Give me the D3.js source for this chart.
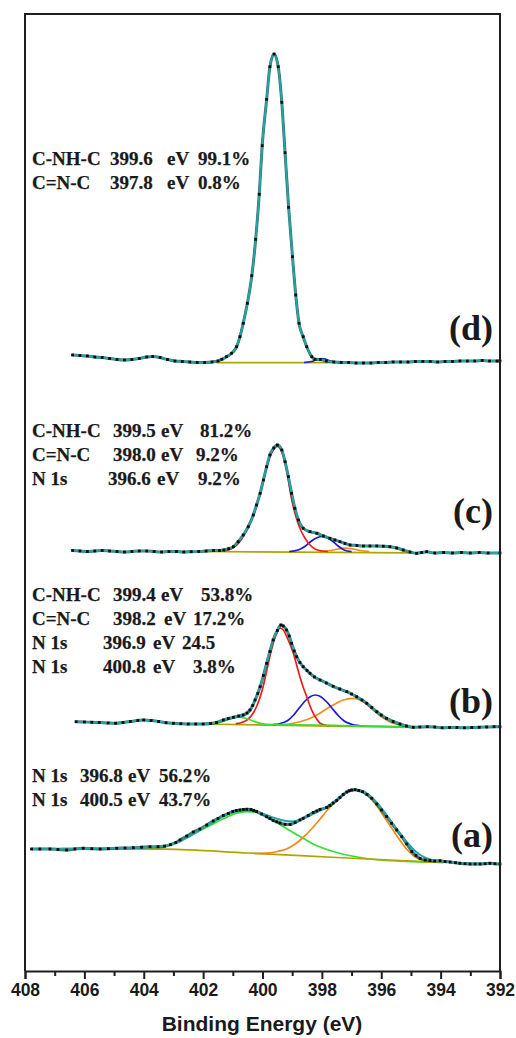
<!DOCTYPE html>
<html><head><meta charset="utf-8">
<script src="https://cdn.jsdelivr.net/npm/d3@7/dist/d3.min.js"></script>
<style>body{margin:0;background:#fff}svg{display:block}</style>
</head><body>
<svg id="chart" width="516" height="1038"></svg>
<script>
// ---------- DATA (binding energy eV, intensity a.u. incl. stacking offset) ----------
const majorTicks = [408, 406, 404, 402, 400, 398, 396, 394, 392];
const minorTicks = [407, 405, 403, 401, 399, 397, 395, 393];
const xTitle = "Binding Energy (eV)";
const panelLetters = ["(d)", "(c)", "(b)", "(a)"];

// (d)
const dataD = [[406.4,616],[406.15,615.5],[405.9,615],[405.65,614],[405.4,613.5],[405.15,612.5],[404.9,611.5],[404.65,611],[404.4,611.5],[404.15,612.5],[403.9,614],[403.7,614.5],[403.45,613.5],[403.2,611.5],[402.95,610],[402.7,609.5],[402.45,609],[402.2,608.5],[401.95,608.5],[401.7,609],[401.5,610],[401.37,611.7],[401.21,614.3],[401.04,617.7],[400.87,624.3],[400.76,634.3],[400.65,647.7],[400.51,667.7],[400.36,695.3],[400.23,731.7],[400.11,776.7],[400.01,825.3],[399.86,871.7],[399.75,904.3],[399.61,917],[399.47,904.3],[399.35,868.7],[399.24,818.3],[399.12,763.7],[398.99,714.3],[398.88,676],[398.77,647.7],[398.63,634.3],[398.51,624.3],[398.34,614.3],[398.23,611.7],[398.05,611.5],[397.85,610],[397.6,609],[397.35,608.5],[397.1,608.5],[396.85,608],[396.6,608],[396.35,608],[396.1,608.5],[395.85,608.5],[395.6,609],[395.35,609],[395.1,609],[394.85,609.5],[394.6,609.5],[394.35,609.5],[394.1,609],[393.85,609.5],[393.6,609.5],[393.35,610],[393.1,610],[392.85,610],[392.6,610.5],[392.35,610],[392.1,610],[392.0,610]];
const bgD = [[401.55,608.3],[397.7,608.3]];
const cnD = [[398.6,608.5],[398.35,609.5],[398.15,611.5],[398.0,612.5],[397.85,611.5],[397.65,609.5],[397.4,608.5]];
const annotD = [["C-NH-C","399.6","eV","99.1%"],["C=N-C","397.8","eV","0.8%"]];

// (c)
const dataC = [[406.4,420.5],[406.15,420],[405.9,419.5],[405.65,420],[405.4,420.5],[405.15,420],[404.9,419.5],[404.65,419],[404.4,419.5],[404.15,420],[403.9,420],[403.65,419.5],[403.4,419],[403.15,419.5],[402.9,419.5],[402.65,419],[402.4,419.3],[402.15,419.5],[401.9,420],[401.65,420.5],[401.45,420.5],[401.3,421],[401.14,422.3],[400.98,424.3],[400.82,429.3],[400.65,436],[400.48,444.3],[400.31,456],[400.2,466],[400.08,477.7],[399.97,491],[399.86,504.3],[399.75,516],[399.62,523],[399.5,526],[399.35,521],[399.24,509.3],[399.13,494.3],[399.02,477.7],[398.91,462.7],[398.79,451],[398.63,442.7],[398.4,439.3],[398.17,437.7],[397.95,435],[397.73,432.7],[397.56,431],[397.39,429.3],[397.22,427.5],[397.05,426],[396.82,425.5],[396.6,425],[396.38,425],[396.15,425],[395.93,424.8],[395.71,424.3],[395.48,423],[395.26,421],[395.03,419],[394.81,417.7],[394.64,418.5],[394.47,419.3],[394.2,418],[393.9,418.5],[393.6,418],[393.3,418.5],[393.0,418],[392.7,418.5],[392.4,418],[392.0,418]];
const bgC = [[402.2,419.5],[395.0,418.2]];
const cnhcC = [[401.3,420],[401.0,423],[400.8,428],[400.6,437],[400.4,449],[400.2,465],[400.0,487],[399.8,510],[399.62,522],[399.5,524.5],[399.35,519],[399.2,503],[399.02,472],[398.85,452],[398.7,440],[398.55,432],[398.4,426],[398.2,421.5],[398.0,420],[397.8,419.5]];
const cnC = [[399.1,419.5],[398.8,421],[398.55,425],[398.35,430],[398.15,433.5],[398.0,434.5],[397.85,433.5],[397.65,430],[397.45,425],[397.25,421],[397.0,419.3]];
const n1sC = [[398.0,419.3],[397.7,420.5],[397.45,422],[397.2,422.8],[396.95,422],[396.7,420.5],[396.4,419.3]];
const annotC = [["C-NH-C","399.5","eV","81.2%"],["C=N-C","398.0","eV","9.2%"],["N 1s","396.6","eV","9.2%"]];

// (b)
const dataB = [[406.28,249.3],[406.0,249],[405.75,248.7],[405.5,248.5],[405.2,248],[404.95,247.7],[404.7,248.5],[404.45,249.5],[404.2,250.5],[404.0,251],[403.75,250.5],[403.5,249.5],[403.25,248.3],[403.0,247.7],[402.75,247.3],[402.5,247],[402.25,247],[402.0,247],[401.75,247.5],[401.55,248.5],[401.32,251],[401.15,252.5],[400.98,253.7],[400.8,255],[400.65,256],[400.52,258],[400.42,261],[400.33,265.5],[400.25,271],[400.16,277.5],[400.08,284.3],[399.97,295.5],[399.86,307.7],[399.75,319.5],[399.64,331],[399.5,340.5],[399.38,346],[399.3,345],[399.19,341],[399.1,335],[399.02,327.7],[398.93,320],[398.85,314.3],[398.74,308.5],[398.63,304.3],[398.5,300.5],[398.4,297.7],[398.25,294],[398.06,291],[397.85,288],[397.62,284.7],[397.4,282],[397.16,279.3],[397.0,277],[396.83,274.3],[396.65,271],[396.49,267.7],[396.32,263.5],[396.15,259.3],[396.0,256],[395.82,252.7],[395.6,249.5],[395.37,247],[395.15,245],[394.92,243.7],[394.7,244],[394.45,244.3],[394.2,244],[393.95,243.2],[393.7,243.5],[393.45,243.5],[393.2,243.2],[392.95,243.5],[392.7,243.7],[392.45,244],[392.2,244.3],[392.0,244.3]];
const bgB = [[402.1,247],[394.9,243.7]];
const cnhcB = [[400.9,247.3],[400.7,248.5],[400.5,251.5],[400.3,258.5],[400.15,268],[400.0,282],[399.86,300],[399.7,321],[399.55,336],[399.42,343],[399.3,341],[399.15,332],[398.96,317.7],[398.85,306],[398.74,294.3],[398.62,283],[398.51,274.3],[398.4,265],[398.29,257.7],[398.15,251],[398.06,247.7],[397.9,246],[397.73,245.3]];
const cnB = [[399.65,246.3],[399.4,247.5],[399.15,250.5],[398.95,256],[398.75,263.5],[398.55,270.5],[398.38,274.5],[398.22,276],[398.05,274.5],[397.85,269.5],[397.65,262.5],[397.45,255.5],[397.25,250],[397.0,246.8],[396.75,245.5],[396.6,245.2]];
const n1sB = [[399.5,246],[399.1,247],[398.74,249.3],[398.45,252],[398.17,256],[397.9,261],[397.62,266],[397.28,271],[396.94,272.7],[396.6,269.3],[396.27,261],[396.05,255.5],[395.82,251],[395.6,247.8],[395.37,246],[395.05,244.5]];
const n1sB2 = [[402.1,247],[401.7,247.5],[401.4,249],[401.15,251.5],[400.95,253.3],[400.78,253.8],[400.6,253],[400.4,251],[400.2,248.8],[400.0,247.2],[399.7,246.5],[399.3,246.3],[399.0,246.2],[398.0,245.7],[397.0,245.2],[396.0,244.8],[394.9,243.7]];
const annotB = [["C-NH-C","399.4","eV","53.8%"],["C=N-C","398.2","eV","17.2%"],["N 1s","396.9","eV","24.5"],["N 1s","400.8","eV","3.8%"]];

// (a)
const dataA = [[407.78,122],[407.5,122],[407.16,122],[406.89,121.5],[406.6,121],[406.32,122],[406.04,122.7],[405.75,122.3],[405.47,122],[405.19,122.3],[404.91,122.7],[404.63,123],[404.35,123.3],[404.07,123.8],[403.79,124.3],[403.52,124.3],[403.3,124.8],[403.1,126.3],[402.92,128.5],[402.78,131],[402.55,135],[402.33,139],[402.11,142],[401.88,146],[401.66,150],[401.5,152.5],[401.32,155.5],[401.15,157.5],[401.0,159.5],[400.88,160.5],[400.76,161],[400.64,161.5],[400.53,161.7],[400.39,161.5],[400.3,160.5],[400.2,159.5],[400.03,157],[399.86,154.3],[399.75,152.5],[399.64,150.5],[399.52,149.2],[399.41,148],[399.24,146.7],[399.07,146.5],[398.9,148.5],[398.74,151],[398.63,152.7],[398.46,155.5],[398.29,158.5],[398.17,160],[398.06,161.5],[397.84,163.5],[397.73,165.5],[397.62,168],[397.5,170.5],[397.39,173.5],[397.28,176.5],[397.16,179],[397.07,180.3],[396.99,181],[396.88,181.3],[396.76,180.5],[396.63,179.3],[396.48,176.5],[396.32,172.7],[396.15,167],[395.99,161],[395.82,154.5],[395.65,147.7],[395.48,141],[395.31,134.3],[395.14,127],[394.97,119.5],[394.83,115.5],[394.69,112.5],[394.52,111],[394.36,110.5],[394.2,110],[394.02,110.3],[393.85,109.5],[393.68,109],[393.5,108.3],[393.35,107.7],[393.18,107.3],[393.01,107],[392.84,107],[392.67,107],[392.5,107.3],[392.34,107.7],[392.17,107.3],[392.0,107]];
const fitA = [[407.78,122],[406.0,122.5],[404.5,123],[403.5,124.5],[403.0,127],[402.5,134],[402.0,143],[401.5,152],[401.0,158.5],[400.6,160.5],[400.3,160],[400.0,157.5],[399.6,153],[399.2,150],[399.0,149.5],[398.7,151.5],[398.4,155.5],[398.0,161.5],[397.6,169],[397.3,176],[397.0,180.5],[396.85,181.3],[396.6,179.5],[396.3,173],[396.0,163],[395.7,151],[395.4,139],[395.1,127.5],[394.8,118.5],[394.5,113],[394.2,110.5],[393.9,109.5],[393.5,108.5],[393.0,107.5],[392.5,107.5],[392.0,107]];
const bgA = [[406.8,122.3],[403.3,121.8],[400.5,118],[397.5,113.5],[393.9,108.3]];
const n1sA = [[400.3,117.5],[399.9,117.8],[399.5,119.5],[399.19,122],[398.9,127],[398.63,133.5],[398.35,142],[398.06,152],[397.84,160],[397.62,167],[397.39,173.5],[397.16,178.5],[396.95,180.8],[396.85,181],[396.7,180],[396.5,176.5],[396.3,171],[396.1,163],[395.9,154],[395.65,143],[395.4,132],[395.15,122],[394.9,115],[394.6,110.5],[394.3,108.8]];
const n1sA2 = [[403.8,122],[403.3,124.5],[402.8,130],[402.3,137.5],[401.8,145],[401.3,152.5],[400.9,157.5],[400.55,159.3],[400.2,158.5],[399.85,154],[399.41,146.5],[399.0,139],[398.63,132.7],[398.3,127],[397.95,122.7],[397.5,118.5],[397.16,116],[396.6,113],[396.04,111],[395.4,110],[394.92,109.3],[394.3,108.7]];
const annotA = [["N 1s","396.8","eV","56.2%"],["N 1s","400.5","eV","43.7%"]];

// ---------- STYLE / LAYOUT ----------
const C = {fit:"#24a4a4", under:"#1d5757", bg:"#b3a300", red:"#ee1c1c", blue:"#1a1ad8", orange:"#f28a1c", green:"#35de35", dot:"#0b0b0b"};
const svg = d3.select("#chart");
const x = d3.scaleLinear().domain([408, 392]).range([25, 500]);
const y = d3.scaleLinear().domain([0, 957]).range([971, 14]);
const line = d3.line().x(d => x(d[0])).y(d => y(d[1])).curve(d3.curveMonotoneX);

const cnhcD = dataD.filter(d => d[0] <= 401.21 && d[0] >= 398.23);

const panels = [
  {data: dataD, fit: dataD, layers: [[bgD, C.bg], [cnD, C.blue], [cnhcD, C.red]]},
  {data: dataC, fit: dataC, layers: [[bgC, C.bg], [n1sC, C.orange], [cnC, C.blue], [cnhcC, C.red]]},
  {data: dataB, fit: dataB, layers: [[bgB, C.bg], [n1sB, C.orange], [cnB, C.blue], [cnhcB, C.red], [n1sB2, C.green]]},
  {data: dataA, fit: fitA, layers: [[n1sA2, C.green], [n1sA, C.orange], [bgA, C.bg]]}
];

panels.forEach(p => {
  const g = svg.append("g");
  p.layers.forEach(([arr, col]) => {
    g.append("path").attr("d", line(arr)).attr("fill", "none").attr("stroke", col).attr("stroke-width", 1.7);
  });
  // experimental trace (dense points form a dark band)
  g.append("path").attr("d", line(p.data)).attr("fill", "none").attr("stroke", C.under)
    .attr("stroke-width", 3.0).attr("stroke-linejoin", "round").attr("opacity", 0.8);
  g.append("path").attr("d", line(p.fit)).attr("fill", "none").attr("stroke", C.fit)
    .attr("stroke-width", 2.0).attr("stroke-linejoin", "round");
  g.selectAll("rect").data(p.data).join("rect")
    .attr("x", d => x(d[0]) - 1.4).attr("y", d => y(d[1]) - 1.4)
    .attr("width", 2.8).attr("height", 2.8).attr("fill", C.dot);
});

// frame
svg.append("path").attr("d", `M${x(408)},${y(0)}V${y(957)}H${x(392)}V${y(0)}`)
  .attr("fill", "none").attr("stroke", "#1e1e1e").attr("stroke-width", 2);

// axes
const axMajor = d3.axisBottom(x).tickValues(majorTicks).tickSize(8).tickPadding(5).tickFormat(d3.format("d"));
const axMinor = d3.axisBottom(x).tickValues(minorTicks).tickSize(5).tickFormat("");
const gMaj = svg.append("g").attr("transform", `translate(0,${y(0)})`).call(axMajor);
const gMin = svg.append("g").attr("transform", `translate(0,${y(0)})`).call(axMinor);
[gMaj, gMin].forEach(g => {
  g.select(".domain").attr("stroke", "#1e1e1e").attr("stroke-width", 2);
  g.selectAll(".tick line").attr("stroke", "#1e1e1e").attr("stroke-width", 2);
});
gMaj.selectAll(".tick text").attr("font-family", "'Liberation Sans', Arial, sans-serif")
  .attr("font-weight", "bold").attr("font-size", 17.5).attr("fill", "#1a1a1a");
gMin.select(".domain").remove();

svg.append("text").attr("x", 262).attr("y", 1031).attr("text-anchor", "middle")
  .attr("font-family", "'Liberation Sans', Arial, sans-serif").attr("font-weight", "bold")
  .attr("font-size", 21).attr("fill", "#1a1a1a").text(xTitle);

// panel letters
const letterY = [340, 523, 713, 847];
panelLetters.forEach((t, i) => {
  svg.append("text").attr("x", 493).attr("y", letterY[i]).attr("text-anchor", "end")
    .attr("font-family", "'Liberation Serif', 'Times New Roman', serif").attr("font-weight", "bold")
    .attr("font-size", 36).attr("fill", "#1a1a1a").text(t);
});

// annotations
const annLayout = [
  {rows: annotD, y: [165, 189], cols: [[32,110,167,198],[32,110,167,198]]},
  {rows: annotC, y: [437, 461, 485], cols: [[32,113,161,200],[32,113,161,196],[32,108,157,198]]},
  {rows: annotB, y: [601, 625, 649, 673], cols: [[32,113,161,201],[32,113,164,193],[32,103,153,182],[32,103,153,193]]},
  {rows: annotA, y: [782, 806], cols: [[32,80,128,159],[32,80,128,159]]}
];
annLayout.forEach(a => {
  a.rows.forEach((row, i) => {
    const t = svg.append("text").attr("y", a.y[i])
      .attr("font-family", "'Liberation Serif', 'Times New Roman', serif").attr("font-weight", "bold")
      .attr("font-size", 19).attr("fill", "#1a1a1a").attr("stroke", "#1a1a1a").attr("stroke-width", 0.25);
    row.forEach((s, j) => t.append("tspan").attr("x", a.cols[i][j]).text(s));
  });
});
</script>
</body></html>
